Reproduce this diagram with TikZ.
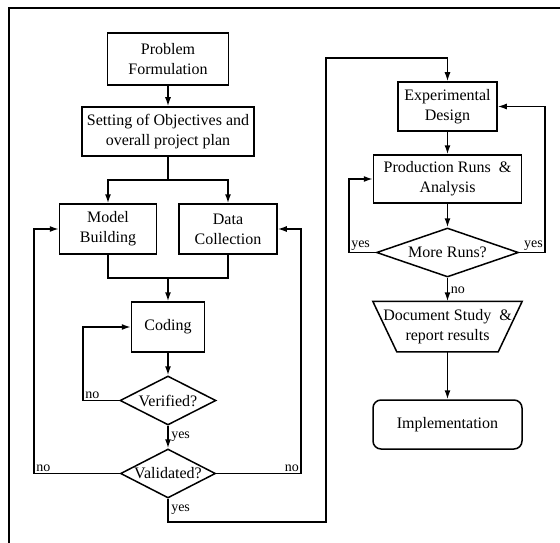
\documentclass[tikz,border=0pt]{standalone}
\usepackage{fontspec}
\setmainfont{Liberation Serif}
\usetikzlibrary{arrows.meta,shapes.geometric}

\begin{document}
\begin{tikzpicture}[x=1pt,y=-1pt,line width=1.5pt,
  every node/.style={font=\fontsize{16}{20}\selectfont},
  flow/.style={-{Latex[length=9pt,width=6pt]}},
  box/.style={draw,rectangle,align=center,inner sep=0pt},
  rbox/.style={box,rounded corners=8pt},
  decision/.style={draw,diamond,inner sep=0pt},
  iobox/.style={rectangle,align=center,inner sep=0pt},
  txt/.style={align=center,inner sep=0pt},
  tag/.style={font=\fontsize{14}{15}\selectfont,inner sep=1.5pt},
  frame/.style={line width=2.5pt}]

\useasboundingbox (0,0) rectangle (560,543);

% page frame (top and left rules)
\draw[frame] (9,543) -- (9,8) -- (560,8);

% left column: model development
\node[box,minimum width=121pt,minimum height=52pt] (prob) at (168,59) {Problem\\Formulation};
\node[box,minimum width=172pt,minimum height=49pt] (setobj) at (168,131.5) {Setting of Objectives and\\overall project plan};
\node[box,minimum width=97pt,minimum height=50pt] (model) at (108,229) {Model\\Building};
\node[box,minimum width=98pt,minimum height=50pt] (data) at (228,229) {Data\\Collection};
\node[box,minimum width=73pt,minimum height=50pt] (coding) at (168,327) {Coding};
\node[decision,minimum width=96pt,minimum height=49pt] (verified) at (168,400.5) {};
\node[txt] (verified-t) at (verified) {Verified?};
\node[decision,minimum width=95pt,minimum height=49pt] (validated) at (168,473.5) {};
\node[txt] (validated-t) at (validated) {Validated?};

% right column: experimentation and reporting
\node[box,minimum width=99pt,minimum height=49pt] (expdes) at (447.5,106.5) {Experimental\\Design};
\node[box,minimum width=148pt,minimum height=48pt] (prod) at (447.5,179) {Production Runs\ \ \&\\Analysis};
\node[decision,minimum width=142pt,minimum height=49pt] (more) at (447.5,252.5) {};
\node[txt] (more-t) at (more) {More Runs?};
\node[iobox,minimum width=148pt,minimum height=49pt] (doc) at (447.5,326.5) {Document Study\ \ \&\\report results};
% output block: trapezoid, wide side on top
\draw (doc.north west) -- (doc.north east) -- ([xshift=-24pt]doc.south east)
  -- ([xshift=24pt]doc.south west) -- cycle;
\node[rbox,minimum width=149pt,minimum height=49pt] (impl) at (447.5,424.5) {Implementation};

% routing points
\coordinate (split) at (168,180);
\coordinate (merge) at (168,278);
\coordinate (vloop) at (83,400.5);
\coordinate (nol) at (34,473.5);
\coordinate (nor) at (301,473.5);
\coordinate (lowpass) at (326,522);
\coordinate (toppass) at (326,58);
\coordinate (ml) at (349,252.5);
\coordinate (mr) at (545,252.5);

% connectors
\draw[flow] (prob.south) -- (setobj.north);
\draw (setobj.south) -- (split);
\draw[flow] (split) -| (model.north);
\draw[flow] (split) -| (data.north);
\draw (model.south) |- (merge) -| (data.south);
\draw[flow] (merge) -- (coding.north);
\draw[flow] (coding.south) -- (verified.north);
\draw[flow] (verified.west) -- (vloop) |- (coding.west);
\draw[flow] (verified.south) -- (validated.north);
\draw[flow] (validated.west) -- (nol) |- (model.west);
\draw[flow] (validated.east) -- (nor) |- (data.east);
\draw[flow] (validated.south) |- (lowpass) -- (toppass) -| (expdes.north);
\draw[flow] (expdes.south) -- (prod.north);
\draw[flow] (prod.south) -- (more.north);
\draw[flow] (more.west) -- (ml) |- (prod.west);
\draw[flow] (more.east) -- (mr) |- (expdes.east);
\draw[flow] (more.south) -- (doc.north);
\draw[flow] (doc.south) -- (impl.north);

% branch labels
\node[tag,anchor=south west] (l-vno) at (vloop) {no};
\node[tag,anchor=west] (l-vyes) at (169,437) {yes};
\node[tag,anchor=south west] (l-nol) at (nol) {no};
\node[tag,anchor=south east] (l-nor) at (nor) {no};
\node[tag,anchor=west] (l-yes) at (169,510) {yes};
\node[tag,anchor=south west] (l-ml) at (ml) {yes};
\node[tag,anchor=south east] (l-mr) at (mr) {yes};
\node[tag,anchor=west] (l-mno) at (448.5,290) {no};
\end{tikzpicture}
\end{document}
